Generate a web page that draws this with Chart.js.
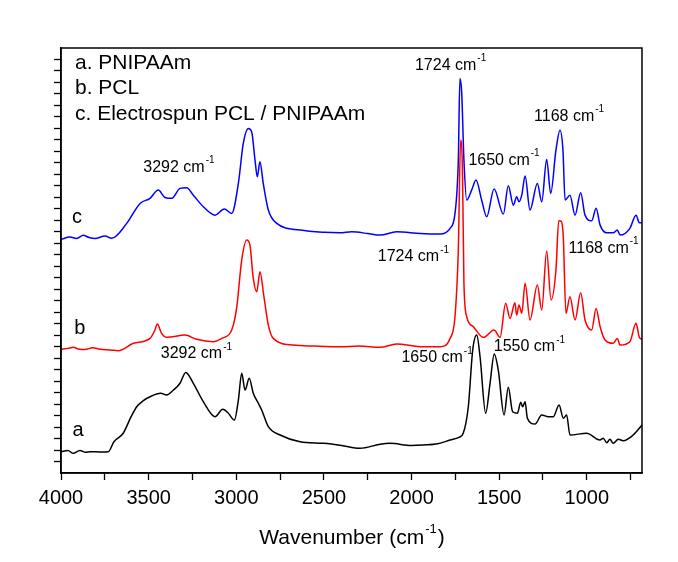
<!DOCTYPE html>
<html>
<head>
<meta charset="utf-8">
<title>FTIR spectra</title>
<script src="https://cdn.jsdelivr.net/npm/chart.js@4.4.0/dist/chart.umd.min.js"></script>
<style>
  html, body { margin: 0; padding: 0; background: #fff; }
  canvas { display: block; }
</style>
</head>
<body>
<canvas id="myChart" width="678" height="562"></canvas>
<script>
'use strict'

// legend lines
const seriesNames = ['a. PNIPAAm', 'b. PCL', 'c. Electrospun PCL / PNIPAAm'];
const curveLetters = ['a', 'b', 'c'];

// x axis tick labels (cm-1), minor ticks every 250
const xTickLabels = [4000, 3500, 3000, 2500, 2000, 1500, 1000];
const xMinorStep = 250;

// a - PNIPAAm (black, bottom)
const waveA = [4000, 3960, 3930, 3892, 3860, 3834, 3777, 3730, 3698, 3645, 3600, 3568, 3530, 3492, 3431, 3397, 3360, 3321, 3288, 3245, 3188, 3121, 3077, 3045, 3011, 2988, 2969, 2950, 2926, 2903, 2874, 2855, 2817, 2750, 2636, 2503, 2400, 2294, 2180, 2123, 2000, 1933, 1850, 1780, 1730, 1705, 1676, 1651, 1628, 1609, 1577, 1552, 1528, 1505, 1472, 1448, 1423, 1396, 1377, 1366, 1352, 1339, 1295, 1257, 1220, 1191, 1158, 1134, 1115, 1096, 1001, 925, 906, 886, 868, 849, 820, 792, 735, 685];
const absA = [1.85, 1.95, 1.71, 1.96, 1.80, 1.85, 1.83, 1.85, 2.72, 3.46, 4.9, 5.77, 6.3, 6.64, 6.94, 6.79, 7.2, 7.81, 8.76, 7.81, 6.21, 4.90, 5.54, 5.20, 4.61, 6.35, 8.68, 7.22, 8.24, 6.94, 6.07, 5.48, 4.03, 3.31, 2.72, 2.58, 2.40, 2.15, 2.50, 2.58, 2.40, 2.44, 2.55, 2.87, 3.10, 3.46, 5.77, 10.70, 12.01, 10.12, 5.20, 7.81, 10.36, 8.96, 5.05, 7.46, 5.33, 5.20, 6.15, 5.77, 6.21, 4.76, 4.26, 5.05, 4.90, 4.90, 5.92, 4.76, 5.05, 3.31, 3.46, 2.87, 3.02, 2.64, 2.93, 2.58, 2.93, 2.81, 3.31, 4.18];

// b - PCL (red, middle)
const waveB = [4000, 3960, 3930, 3900, 3863, 3820, 3777, 3720, 3673, 3587, 3492, 3464, 3451, 3426, 3397, 3292, 3226, 3131, 3083, 3026, 2997, 2969, 2940, 2922, 2903, 2883, 2865, 2842, 2817, 2789, 2675, 2550, 2408, 2300, 2180, 2085, 1950, 1837, 1780, 1752, 1733, 1720, 1709, 1701, 1685, 1647, 1590, 1529, 1495, 1463, 1438, 1410, 1400, 1387, 1371, 1352, 1324, 1282, 1257, 1229, 1204, 1176, 1160, 1145, 1134, 1119, 1096, 1067, 1035, 1010, 972, 947, 924, 896, 849, 826, 810, 754, 719, 700, 685];
const absB = [10.77, 10.85, 10.94, 10.8, 10.75, 10.9, 10.77, 10.71, 10.64, 11.29, 11.72, 12.45, 12.97, 12.16, 11.81, 12.01, 11.64, 11.43, 11.72, 12.45, 14.47, 18.54, 20.28, 19.84, 16.94, 15.78, 17.52, 15.34, 12.88, 11.72, 11.14, 11.05, 10.99, 11.05, 10.94, 11.23, 11.0, 10.99, 11.72, 13.60, 19.41, 28.98, 26.0, 16.51, 13.60, 12.73, 11.81, 12.45, 11.81, 14.77, 13.46, 14.82, 13.75, 14.62, 13.90, 16.51, 13.32, 16.36, 14.19, 19.32, 15.06, 17.67, 21.96, 21.9, 20.5, 13.90, 15.34, 13.32, 15.69, 13.32, 12.45, 14.33, 12.73, 11.58, 11.29, 11.72, 11.14, 11.43, 13.03, 11.81, 11.64];

// c - electrospun PCL / PNIPAAm (blue, top)
const waveC = [4000, 3949, 3910, 3873, 3840, 3806, 3749, 3711, 3625, 3549, 3492, 3445, 3407, 3368, 3321, 3283, 3245, 3188, 3121, 3068, 3026, 2988, 2960, 2931, 2912, 2893, 2880, 2865, 2846, 2817, 2769, 2636, 2500, 2408, 2341, 2250, 2180, 2085, 1950, 1837, 1780, 1752, 1733, 1724, 1714, 1701, 1685, 1657, 1632, 1600, 1571, 1529, 1476, 1448, 1419, 1400, 1387, 1371, 1352, 1324, 1282, 1257, 1229, 1206, 1176, 1153, 1136, 1124, 1096, 1067, 1035, 1010, 972, 947, 924, 886, 849, 826, 810, 754, 719, 700, 685];
const absC = [20.34, 20.54, 20.42, 20.69, 20.5, 20.41, 20.63, 20.43, 21.73, 23.47, 23.91, 24.63, 23.99, 23.91, 24.78, 24.83, 24.19, 23.18, 22.45, 22.98, 22.60, 25.21, 28.69, 30.0, 29.70, 27.24, 25.79, 27.09, 25.21, 22.89, 21.73, 21.15, 20.95, 20.91, 21.0, 20.85, 20.71, 21.0, 20.85, 20.80, 21.30, 22.60, 27.24, 34.35, 33.2, 27.24, 23.76, 24.63, 25.50, 23.76, 22.31, 24.72, 22.54, 25.00, 23.32, 24.05, 23.61, 24.19, 25.85, 22.89, 25.21, 23.61, 27.30, 24.34, 28.10, 29.85, 28.1, 23.76, 24.19, 22.45, 24.39, 22.45, 21.96, 23.04, 21.58, 20.91, 20.91, 21.15, 20.71, 21.30, 22.45, 21.78, 21.78];

// peak labels
const peakNumbers = ['3292', '1724', '1168', '1650', '1724', '1168', '3292', '1650', '1550'];

// where the labels sit (wavenumber / intensity units)
const peakAt = [[3330, 26.63], [1780, 35.51], [1104, 31.07], [1475, 27.24], [1992, 18.8], [907, 19.58], [3230, 10.36], [1857, 10.01], [1330, 10.97]];
const letterAt = [[3903, 3.74], [3892, 12.62], [3909, 22.28]];

const FONT = "'Liberation Sans', Arial, sans-serif";

function toPoints(xs, ys) {
  return xs.map((x, i) => ({ x: x, y: ys[i] }));
}

// text with a superscript after it, centred on cx
function drawSup(ctx, main, sup, cx, cy, size) {
  let supSize = Math.round(size * 0.62);
  ctx.font = size + 'px ' + FONT;
  let w1 = ctx.measureText(main).width;
  ctx.font = supSize + 'px ' + FONT;
  let w2 = ctx.measureText(sup).width;
  let x = cx - (w1 + w2) / 2;
  ctx.textAlign = 'left';
  ctx.textBaseline = 'middle';
  ctx.font = size + 'px ' + FONT;
  ctx.fillText(main, x, cy);
  ctx.font = supSize + 'px ' + FONT;
  ctx.fillText(sup, x + w1 + 1, cy - size * 0.42);
}

const textPlugin = {
  id: 'spectraText',
  afterDraw(chart) {
    const ctx = chart.ctx;
    const xs = chart.scales.x;
    const ys = chart.scales.y;
    const area = chart.chartArea;
    ctx.save();

    // box round the plot
    ctx.strokeStyle = '#000';
    ctx.lineWidth = 1.5;
    ctx.strokeRect(area.left, area.top, area.right - area.left, area.bottom - area.top);

    ctx.fillStyle = '#000';

    // legend lines
    ctx.font = '21px ' + FONT;
    ctx.textAlign = 'left';
    ctx.textBaseline = 'middle';
    for (let i = 0; i < seriesNames.length; i++) {
      ctx.fillText(seriesNames[i], area.left + 14, area.top + 15 + i * 25.5);
    }

    // a, b, c next to the curves
    ctx.font = '20px ' + FONT;
    ctx.textAlign = 'center';
    for (let i = 0; i < curveLetters.length; i++) {
      ctx.fillText(curveLetters[i], xs.getPixelForValue(letterAt[i][0]), ys.getPixelForValue(letterAt[i][1]));
    }

    // peak labels
    for (let i = 0; i < peakNumbers.length; i++) {
      drawSup(ctx, peakNumbers[i] + ' cm', '-1', xs.getPixelForValue(peakAt[i][0]), ys.getPixelForValue(peakAt[i][1]), 16);
    }

    // x axis title
    let cx = (area.left + area.right) / 2;
    ctx.font = '21px ' + FONT;
    let w0 = ctx.measureText('Wavenumber (cm').width;
    ctx.font = '13px ' + FONT;
    let ws = ctx.measureText('-1').width;
    ctx.font = '21px ' + FONT;
    let wc = ctx.measureText(')').width;
    let x0 = cx - (w0 + ws + wc + 1) / 2;
    ctx.textAlign = 'left';
    ctx.fillText('Wavenumber (cm', x0, 538);
    ctx.font = '13px ' + FONT;
    ctx.fillText('-1', x0 + w0 + 1, 529);
    ctx.font = '21px ' + FONT;
    ctx.fillText(')', x0 + w0 + ws + 2, 538);

    ctx.restore();
  }
};

let config = {
  type: 'line',
  data: {
    datasets: [
      { label: seriesNames[0], data: toPoints(waveA, absA), borderColor: '#000000' },
      { label: seriesNames[1], data: toPoints(waveB, absB), borderColor: '#ff0000' },
      { label: seriesNames[2], data: toPoints(waveC, absC), borderColor: '#0000ff' }
    ]
  },
  options: {
    responsive: false,
    animation: false,
    devicePixelRatio: 1,
    layout: { padding: { left: 0, right: 36, top: 48, bottom: 0 } },
    elements: {
      line: { borderWidth: 1.5, cubicInterpolationMode: 'monotone', fill: false },
      point: { radius: 0 }
    },
    plugins: {
      legend: { display: false },
      tooltip: { enabled: false }
    },
    scales: {
      x: {
        type: 'linear',
        reverse: true,
        min: 685,
        max: 4000,
        afterBuildTicks: function (scale) {
          let t = [];
          for (let v = 4000; v >= 750; v -= xMinorStep) t.push({ value: v });
          scale.ticks = t;
        },
        afterFit: function (scale) { scale.height = 89; },
        ticks: {
          autoSkip: false,
          maxRotation: 0,
          padding: 6,
          color: '#000',
          font: { family: FONT, size: 20 },
          callback: function (value) {
            return xTickLabels.includes(value) ? String(value) : '';
          }
        },
        grid: { drawOnChartArea: false, tickLength: 7, tickColor: '#000', tickWidth: 1.3 },
        border: { color: '#000', width: 1.5 }
      },
      y: {
        type: 'linear',
        min: 0,
        max: 37,
        afterBuildTicks: function (scale) {
          let t = [];
          for (let v = 1; v <= 36; v++) t.push({ value: v });
          scale.ticks = t;
        },
        afterFit: function (scale) { scale.width = 61; },
        ticks: { display: false },
        grid: { drawOnChartArea: false, tickLength: 7, tickColor: '#000', tickWidth: 1.3 },
        border: { color: '#000', width: 1.5 }
      }
    }
  },
  plugins: [textPlugin]
};

const ctx = document.getElementById('myChart').getContext('2d');
const myChart = new Chart(ctx, config);
</script>
</body>
</html>
